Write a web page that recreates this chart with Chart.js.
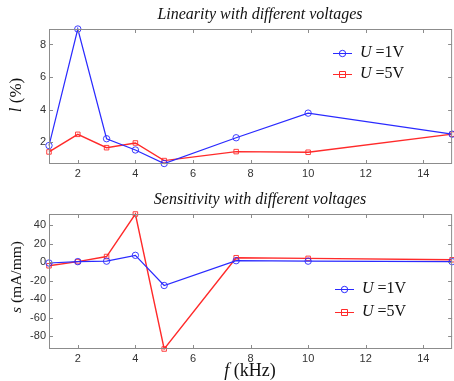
<!DOCTYPE html>
<html><head><meta charset="utf-8">
<script src="https://cdn.jsdelivr.net/npm/chart.js@4.4.0/dist/chart.umd.min.js"></script>
<style>
html,body{margin:0;padding:0;background:#fff;overflow:hidden;width:454px;height:381px}
.w{position:absolute;left:0;width:457px}
canvas{display:block}
</style></head><body>
<div class="w" style="top:0;height:190px"><canvas id="c1" width="457" height="190"></canvas></div>
<div class="w" style="top:190px;height:191px"><canvas id="c2" width="457" height="191"></canvas></div>
<script>
// ---- data ----
const freq = [1, 2, 3, 4, 5, 7.5, 10, 15];
const lin1V = [1.8, 8.95, 2.22, 1.53, 0.7, 2.28, 3.79, 2.5];
const lin5V = [1.41, 2.49, 1.67, 1.96, 0.88, 1.43, 1.39, 2.5];
const sens1V = [-1, 0.5, 1, 7.3, -25.3, 1.5, 1, 0.5];
const sens5V = [-4, 0.5, 6, 52, -94, 4.7, 4, 2.5];
const xTicks = [2, 4, 6, 8, 10, 12, 14];
const linTicks = [2, 4, 6, 8];
const sensTicks = [-80, -60, -40, -20, 0, 20, 40];
const seriesNames = ['=1V', '=5V'];
const seriesSymbol = 'U';
const titles = ['Linearity with different voltages', 'Sensitivity with different voltages'];

const BLUE = '#2a2aff', RED = '#ff2a2a';
const SERIF = '"Liberation Serif","Times New Roman",serif';
const SANS = '"Liberation Sans",Arial,sans-serif';

function drawMixed(ctx, segs, x, y, size, align) {
  let total = 0;
  segs.forEach(s => { ctx.font = (s.i ? 'italic ' : '') + size + 'px ' + SERIF; s.w = ctx.measureText(s.t).width; total += s.w; });
  let cx = align === 'center' ? x - total / 2 : x;
  ctx.textAlign = 'left'; ctx.textBaseline = 'middle';
  segs.forEach(s => { ctx.font = (s.i ? 'italic ' : '') + size + 'px ' + SERIF; ctx.fillText(s.t, cx, y); cx += s.w; });
}

function makeChart(id, y1, y2, yMin, yMax, yTicks, cfg) {
  const deco = {
    id: 'deco',
    afterDraw(chart) {
      const ctx = chart.ctx, a = chart.chartArea, xs = chart.scales.x, ys = chart.scales.y;
      ctx.save();
      ctx.strokeStyle = '#8c8c8c'; ctx.lineWidth = 1;
      ctx.strokeRect(a.left + 0.5, a.top + 0.5, a.right - a.left - 1, a.bottom - a.top - 1);
      ctx.beginPath();
      xTicks.forEach(v => { const px = Math.round(xs.getPixelForValue(v)) + 0.5;
        ctx.moveTo(px, a.bottom); ctx.lineTo(px, a.bottom - 4);
        ctx.moveTo(px, a.top); ctx.lineTo(px, a.top + 4); });
      yTicks.forEach(v => { const py = Math.round(ys.getPixelForValue(v)) + 0.5;
        ctx.moveTo(a.left, py); ctx.lineTo(a.left + 4, py);
        ctx.moveTo(a.right, py); ctx.lineTo(a.right - 4, py); });
      ctx.stroke();
      ctx.fillStyle = '#111';
      drawMixed(ctx, [{t: cfg.title, i: true}], 260, cfg.titleY, 16, 'center');
      ctx.save();
      ctx.translate(17, cfg.yTitleY); ctx.rotate(-Math.PI / 2);
      drawMixed(ctx, cfg.yTitle, 0, 0, cfg.yTitleSize, 'center');
      ctx.restore();
      if (cfg.xTitle) drawMixed(ctx, cfg.xTitle, 250, cfg.xTitleY, 18, 'center');
      chart.data.datasets.forEach((ds, i) => {
        const ly = cfg.legY + i * cfg.legGap;
        ctx.strokeStyle = ds.borderColor; ctx.lineWidth = 1;
        ctx.beginPath(); ctx.moveTo(cfg.legX, ly + 0.5); ctx.lineTo(cfg.legX + 19, ly + 0.5); ctx.stroke();
        const mx = cfg.legX + 9.5;
        ctx.beginPath();
        if (ds.pointStyle === 'rect') ctx.rect(mx - 3, ly - 2.5, 6, 6);
        else ctx.arc(mx, ly + 0.5, 3.2, 0, Math.PI * 2);
        ctx.stroke();
        ctx.fillStyle = '#111';
        drawMixed(ctx, [{t: seriesSymbol, i: true}, {t: ' ' + ds.label, i: false}], cfg.legX + 27, ly, 16, 'left');
      });
      ctx.restore();
    }
  };
  const mk = (label, data, color, style, bw) => ({
    label, data: freq.map((f, i) => ({x: f, y: data[i]})),
    borderColor: color, backgroundColor: 'rgba(0,0,0,0)', borderWidth: bw,
    pointStyle: style, pointRadius: 3.2, pointBorderWidth: 0.9, pointBorderColor: color,
    pointBackgroundColor: 'rgba(0,0,0,0)', tension: 0, clip: false
  });
  return new Chart(document.getElementById(id), {
    type: 'line',
    data: { datasets: [mk(seriesNames[0], y1, BLUE, 'circle', 1.2), mk(seriesNames[1], y2, RED, 'rect', 1.4)] },
    options: {
      responsive: false, animation: false, devicePixelRatio: 1,
      layout: { padding: { top: cfg.padTop, right: 1, left: 0, bottom: 0 } },
      plugins: { legend: { display: false }, tooltip: { enabled: false } },
      scales: {
        x: { type: 'linear', min: 1, max: 15,
          afterBuildTicks: ax => { ax.ticks = xTicks.map(v => ({value: v})); },
          afterFit: ax => { ax.height = cfg.xH; },
          grid: { display: false, drawTicks: false }, border: { display: false },
          ticks: { color: '#333', font: { family: SANS, size: 11 }, padding: 3, maxRotation: 0 } },
        y: { type: 'linear', min: yMin, max: yMax,
          afterBuildTicks: ax => { ax.ticks = yTicks.map(v => ({value: v})); },
          afterFit: ax => { ax.width = 49; },
          grid: { display: false, drawTicks: false }, border: { display: false },
          ticks: { color: '#333', font: { family: SANS, size: 11 }, padding: 3 } }
      }
    },
    plugins: [deco]
  });
}

makeChart('c1', lin1V, lin5V, 0.67, 8.95, linTicks, {
  title: titles[0], titleY: 15, padTop: 29, xH: 26,
  yTitle: [{t: 'l', i: true}, {t: ' (%)', i: false}], yTitleY: 95, yTitleSize: 17,
  legX: 333, legY: 53, legGap: 21
});
makeChart('c2', sens1V, sens5V, -94, 52, sensTicks, {
  title: titles[1], titleY: 10, padTop: 24, xH: 32,
  yTitle: [{t: 's', i: true}, {t: ' (mA/mm)', i: false}], yTitleY: 87, yTitleSize: 15.5,
  xTitle: [{t: 'f', i: true}, {t: ' (kHz)', i: false}], xTitleY: 181,
  legX: 335, legY: 99, legGap: 23
});
</script>
</body></html>
